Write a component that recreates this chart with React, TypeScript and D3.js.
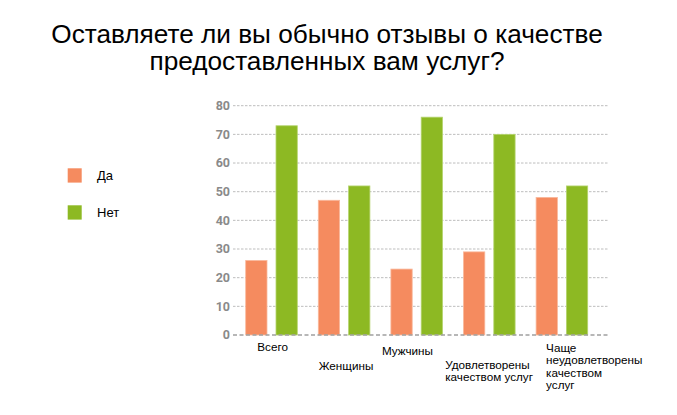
import React from "react";
import * as d3 from "d3";

const categories = ["Всего", "Женщины", "Мужчины", "Удовлетворены качеством услуг", "Чаще неудовлетворены качеством услуг"];
const categoryLines = [["Всего"], ["Женщины"], ["Мужчины"], ["Удовлетворены", "качеством услуг"], ["Чаще", "неудовлетворены", "качеством", "услуг"]];
const seriesNames = ["Да", "Нет"];
const yesValues = [26, 47, 23, 29, 48];
const noValues = [73, 52, 76, 70, 52];
const yTicks = [0, 10, 20, 30, 40, 50, 60, 70, 80];
const titleLines = ["Оставляете ли вы обычно отзывы о качестве", "предоставленных вам услуг?"];

// layout (not data)
const W = 677, H = 415;
const colors = ["#F58B5F", "#8DB923"];
const strokeColors = ["#F9B89C", "#B5D46E"];
const labelOffsets = [
  { dx: 11.6, y: 350.5 },
  { dx: 0.4, y: 370.3 },
  { dx: -9, y: 354.5 },
  { dx: -18.3, y: 368.5 },
  { dx: 10, y: 352.3 },
];

export default function App() {
  const x = d3.scaleBand<string>().domain(categories).range([233, 233 + 72.6 * 5]).paddingInner(0).paddingOuter(0);
  const xi = d3.scaleBand<string>().domain(seriesNames).range([12.7, 64.3]).paddingInner(0.297);
  const y = d3.scaleLinear().domain([0, 80]).range([335, 105.7]);
  const values = [yesValues, noValues];

  return (
    <svg width={W} height={H} style={{ position: "absolute", left: 0, top: 0, background: "#fff" }} fontFamily="'Liberation Sans', Arial, sans-serif">
      {titleLines.map((t, i) => (
        <text key={i} x={327} y={43.3 + i * 26.6} textAnchor="middle" fontSize={26.2} fill="#000">{t}</text>
      ))}
      {/* gridlines */}
      {yTicks.filter(t => t !== 0).map(t => (
        <line key={t} x1={233} x2={608} y1={y(t)} y2={y(t)} stroke="#BDBDBD" strokeWidth={1} strokeDasharray="2.5,1.5" />
      ))}
      {yTicks.map(t => (
        <text key={"l" + t} x={230} y={y(t) + 4.3} textAnchor="end" fontSize={12.5} fontWeight="bold" fontFamily="Roboto, sans-serif" fill="#8A8A8A">{t}</text>
      ))}
      {/* bars */}
      {categories.map((c, ci) => (
        <g key={c}>
          {seriesNames.map((s, si) => {
            const v = values[si][ci];
            const bx = (x(c) as number) + (xi(s) as number);
            return (
              <rect key={s} x={bx} y={y(v)} width={xi.bandwidth()} height={y(0) - y(v)} fill={colors[si]} stroke={strokeColors[si]} strokeWidth={0.8} />
            );
          })}
        </g>
      ))}
      <line x1={233} x2={609} y1={y(0)} y2={y(0)} stroke="#A0A0A0" strokeWidth={1.5} strokeDasharray="4,2.5" />
      {/* x labels */}
      {categories.map((c, ci) => (
        <text key={"x" + c} fontSize={11.7} fill="#000">
          {categoryLines[ci].map((ln, li) => (
            <tspan key={li} x={(x(c) as number) + 12.7 + labelOffsets[ci].dx} y={labelOffsets[ci].y + li * 12.1}>{ln}</tspan>
          ))}
        </text>
      ))}
      {/* legend */}
      {seriesNames.map((s, si) => (
        <g key={"lg" + s}>
          <rect x={67.7} y={168.3 + si * 37} width={14} height={14.3} fill={colors[si]} />
          <text x={97} y={179.5 + si * 37} fontSize={13} fill="#000">{s}</text>
        </g>
      ))}
    </svg>
  );
}
